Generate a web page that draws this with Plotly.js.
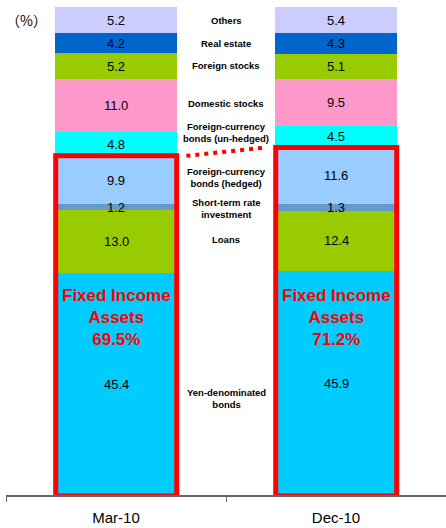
<!DOCTYPE html>
<html><head><meta charset="utf-8">
<script src="https://cdn.plot.ly/plotly-3.0.1.min.js"></script>
<style>html,body{margin:0;padding:0;background:#fff}#chart{width:446px;height:528px}</style>
</head><body><div id="chart"></div>
<script>
// ---- data ----
const periods = ["Mar-10", "Dec-10"];
const seriesNames = ["Yen-denominated<br>bonds", "Loans", "Short-term rate<br>investment",
  "Foreign-currency<br>bonds (hedged)", "Foreign-currency<br>bonds (un-hedged)",
  "Domestic stocks", "Foreign stocks", "Real estate", "Others"];
const yenBonds   = [45.4, 45.9];
const loans      = [13.0, 12.4];
const shortTerm  = [1.2, 1.3];
const fxHedged   = [9.9, 11.6];
const fxUnhedged = [4.8, 4.5];
const domStocks  = [11.0, 9.5];
const forStocks  = [5.2, 5.1];
const realEstate = [4.2, 4.3];
const others     = [5.2, 5.4];
const fixedIncomeCount = 4; // first four series are fixed income assets

// ---- styles ----
const colors = ["#00CCFF", "#99CC00", "#6699CC", "#99CCFF", "#00FFFF", "#FF99CC", "#99CC00", "#0066CC", "#CCCCFF"];
const labelY = [19.7, 52.3, 58.8, 65.0, 74.2, 80.3, 88.1, 92.6, 97.3]; // label placement between bars
const FONT = "Arial, 'Liberation Sans', sans-serif";

const series = [yenBonds, loans, shortTerm, fxHedged, fxUnhedged, domStocks, forStocks, realEstate, others];

const traces = series.map((vals, i) => ({
  type: "bar", x: periods, y: vals, name: seriesNames[i],
  marker: {color: colors[i], line: {width: 0}},
  width: 0.555, hoverinfo: "skip", showlegend: false
}));

const annotations = [];
const shapes = [];
periods.forEach((p, k) => {
  let cum = 0;
  series.forEach((vals) => {
    const v = vals[k];
    annotations.push({x: k, y: cum + v / 2, xref: "x", yref: "y", text: v.toFixed(1),
      showarrow: false, font: {family: FONT, size: 13, color: "#000"}});
    cum += v;
  });
  let fi = 0;
  for (let i = 0; i < fixedIncomeCount; i++) fi += series[i][k];
  shapes.push({type: "rect", xref: "x", yref: "y", x0: k - 0.274, x1: k + 0.276, y0: -0.2, y1: fi,
    line: {color: "#FF0000", width: 5}, fillcolor: "rgba(0,0,0,0)"});
  annotations.push({x: k, y: 36.3, xref: "x", yref: "y",
    text: "Fixed Income<br>Assets<br>" + fi.toFixed(1) + "%", showarrow: false,
    font: {family: FONT, size: 17, color: "#FF0000", weight: 700}});
});
// dotted connector between fixed income boxes
const fiTop = periods.map((_, k) => { let s = 0; for (let i = 0; i < fixedIncomeCount; i++) s += series[i][k]; return s; });
shapes.push({type: "line", xref: "x", yref: "y", x0: 0.32, y0: fiTop[0], x1: 0.68, y1: fiTop[1],
  line: {color: "#FF0000", width: 4, dash: "4px,5px"}});

// category labels between bars
seriesNames.forEach((n, i) => {
  annotations.push({x: 0.5, y: labelY[i], xref: "x", yref: "y", text: n, showarrow: false,
    font: {family: FONT, size: 9.5, color: "#000", weight: 700}});
});
annotations.push({x: 0, y: 1, xref: "paper", yref: "paper", xanchor: "left", yanchor: "top", xshift: -2, yshift: -1,
  text: "（%）", showarrow: false, font: {family: "'Noto Sans CJK JP', sans-serif", size: 14, color: "#000"}});

const layout = {
  width: 446, height: 528,
  margin: {l: 6, r: 0, t: 7, b: 33},
  barmode: "stack", bargap: 0,
  paper_bgcolor: "#fff", plot_bgcolor: "#fff",
  xaxis: {type: "category", range: [-0.5, 1.5],
    tickson: "boundaries", ticks: "outside", ticklen: 5, tickcolor: "#666", tickwidth: 1,
    showline: true, linecolor: "#666", linewidth: 1.5, showgrid: false, zeroline: false,
    ticklabelstandoff: 8,
    tickfont: {family: FONT, size: 15, color: "#000"}, fixedrange: true},
  yaxis: {range: [0, 100], visible: false, showgrid: false, zeroline: false, fixedrange: true},
  shapes: shapes,
  annotations: annotations
};
Plotly.newPlot("chart", traces, layout, {staticPlot: true});
</script></body></html>
